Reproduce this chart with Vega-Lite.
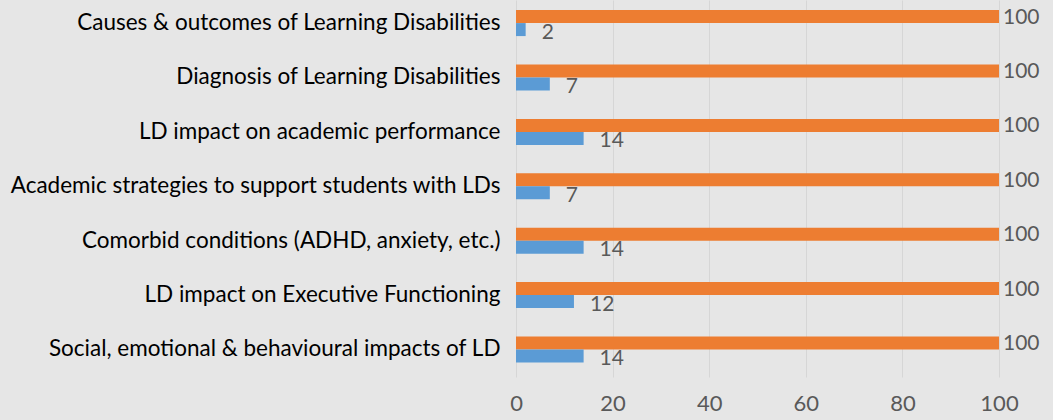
{
  "$schema": "https://vega.github.io/schema/vega-lite/v6.json",
  "autosize": "none",
  "width": 483,
  "height": 377,
  "padding": {"left": 516, "top": 0, "right": 54, "bottom": 43},
  "background": "#e6e6e6",
  "config": {
    "view": {"stroke": null},
    "font": "Lato"
  },
  "data": {
    "values": [
      {"topic": "Causes & outcomes of Learning Disabilities", "series": "A", "value": 100},
      {"topic": "Causes & outcomes of Learning Disabilities", "series": "B", "value": 2},
      {"topic": "Diagnosis of Learning Disabilities", "series": "A", "value": 100},
      {"topic": "Diagnosis of Learning Disabilities", "series": "B", "value": 7},
      {"topic": "LD impact on academic performance", "series": "A", "value": 100},
      {"topic": "LD impact on academic performance", "series": "B", "value": 14},
      {"topic": "Academic strategies to support students with LDs", "series": "A", "value": 100},
      {"topic": "Academic strategies to support students with LDs", "series": "B", "value": 7},
      {"topic": "Comorbid conditions (ADHD, anxiety, etc.)", "series": "A", "value": 100},
      {"topic": "Comorbid conditions (ADHD, anxiety, etc.)", "series": "B", "value": 14},
      {"topic": "LD impact on Executive Functioning", "series": "A", "value": 100},
      {"topic": "LD impact on Executive Functioning", "series": "B", "value": 12},
      {"topic": "Social, emotional & behavioural impacts of LD", "series": "A", "value": 100},
      {"topic": "Social, emotional & behavioural impacts of LD", "series": "B", "value": 14}
    ]
  },
  "encoding": {
    "y": {
      "field": "topic",
      "type": "nominal",
      "sort": null,
      "scale": {"paddingInner": 0.522, "paddingOuter": 0.226, "align": 0.41},
      "axis": {
        "title": null,
        "domain": false,
        "ticks": false,
        "labelFont": "Lato",
        "labelFontSize": 22.5,
        "labelColor": "#000000",
        "labelPadding": 16,
        "labelLimit": 600
      }
    },
    "yOffset": {"field": "series", "type": "nominal", "sort": ["A", "B"], "scale": {"paddingInner": 0, "paddingOuter": 0}},
    "x": {
      "field": "value",
      "type": "quantitative",
      "scale": {"domain": [0, 100], "nice": false},
      "axis": {
        "title": null,
        "values": [0, 20, 40, 60, 80, 100],
        "domain": false,
        "ticks": false,
        "grid": true,
        "gridColor": "#d6d6d6",
        "gridWidth": 1,
        "labelFont": "Lato",
        "labelFontSize": 22,
        "labelColor": "#595959",
        "labelPadding": 16,
        "labelFlush": false
      }
    }
  },
  "layer": [
    {
      "mark": {"type": "bar", "stroke": null},
      "encoding": {
        "color": {
          "field": "series",
          "type": "nominal",
          "scale": {"domain": ["A", "B"], "range": ["#ed7d31", "#5b9bd5"]},
          "legend": null
        }
      }
    },
    {
      "transform": [{"filter": "datum.series === 'A'"}],
      "mark": {"type": "text", "align": "left", "baseline": "middle", "dx": 4, "dy": 1, "fontSize": 21, "color": "#595959", "font": "Lato"},
      "encoding": {"text": {"field": "value", "type": "quantitative"}}
    },
    {
      "transform": [{"filter": "datum.series === 'B'"}],
      "mark": {"type": "text", "align": "left", "baseline": "middle", "dx": 16, "dy": 3, "fontSize": 21, "color": "#595959", "font": "Lato"},
      "encoding": {"text": {"field": "value", "type": "quantitative"}}
    }
  ]
}
